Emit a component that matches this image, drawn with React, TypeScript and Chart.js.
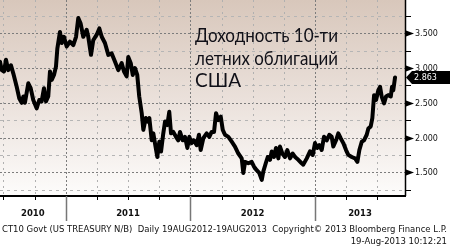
import { useEffect, useRef } from "react";
import { Chart, registerables } from "chart.js";

Chart.register(...registerables);

// Fractional-year dates and 10Y US Treasury yields (%)
const dates = [
  2010.473, 2010.487, 2010.505, 2010.521, 2010.539, 2010.561, 2010.58, 2010.607, 2010.628, 2010.647,
  2010.66, 2010.673, 2010.7, 2010.719, 2010.74, 2010.767, 2010.788, 2010.807, 2010.826, 2010.842,
  2010.86, 2010.874, 2010.888, 2010.906, 2010.922, 2010.933, 2010.954, 2010.968, 2010.986, 2011.008,
  2011.034, 2011.061, 2011.083, 2011.101, 2011.12, 2011.141, 2011.168, 2011.181, 2011.203, 2011.221,
  2011.249, 2011.27, 2011.289, 2011.315, 2011.342, 2011.369, 2011.396, 2011.422, 2011.449, 2011.468,
  2011.489, 2011.502, 2011.522, 2011.538, 2011.556, 2011.574, 2011.59, 2011.61, 2011.623, 2011.642,
  2011.658, 2011.671, 2011.69, 2011.703, 2011.716, 2011.735, 2011.751, 2011.765, 2011.783, 2011.797,
  2011.815, 2011.831, 2011.845, 2011.863, 2011.885, 2011.903, 2011.917, 2011.939, 2011.957, 2011.976,
  2011.992, 2012.011, 2012.029, 2012.051, 2012.069, 2012.083, 2012.104, 2012.131, 2012.152, 2012.171,
  2012.19, 2012.206, 2012.224, 2012.244, 2012.26, 2012.278, 2012.305, 2012.332, 2012.358, 2012.385,
  2012.412, 2012.425, 2012.439, 2012.465, 2012.492, 2012.511, 2012.532, 2012.553, 2012.573, 2012.585,
  2012.605, 2012.621, 2012.639, 2012.653, 2012.671, 2012.687, 2012.706, 2012.719, 2012.738, 2012.759,
  2012.778, 2012.8, 2012.821, 2012.84, 2012.866, 2012.893, 2012.906, 2012.934, 2012.96, 2012.982,
  2013.0, 2013.019, 2013.035, 2013.054, 2013.072, 2013.094, 2013.115, 2013.134, 2013.147, 2013.169,
  2013.187, 2013.206, 2013.227, 2013.249, 2013.267, 2013.295, 2013.321, 2013.34, 2013.356, 2013.375,
  2013.393, 2013.415, 2013.428, 2013.447, 2013.46, 2013.474, 2013.49, 2013.508, 2013.522, 2013.535,
  2013.554, 2013.57, 2013.588, 2013.608, 2013.618, 2013.628, 2013.642,
];
const yields = [
  3.09, 2.97, 2.95, 3.12, 2.97, 3.04, 2.92, 2.73, 2.56, 2.5,
  2.59, 2.5, 2.78, 2.71, 2.54, 2.42, 2.54, 2.52, 2.71, 2.52,
  2.59, 2.95, 2.83, 2.9, 3.02, 3.28, 3.52, 3.36, 3.45, 3.31,
  3.38, 3.33, 3.45, 3.72, 3.64, 3.45, 3.55, 3.45, 3.19, 3.4,
  3.48, 3.57, 3.45, 3.36, 3.19, 3.21, 3.09, 2.97, 3.07, 2.95,
  2.88, 3.16, 3.07, 2.9, 3.0, 2.9, 2.59, 2.35, 2.11, 2.28,
  2.23, 2.28, 1.96, 2.06, 1.92, 1.72, 1.94, 1.8, 2.06, 2.23,
  2.18, 2.37, 2.06, 2.08, 2.01, 1.96, 2.08, 1.96, 2.01, 1.85,
  2.01, 1.92, 1.96, 1.89, 2.04, 1.82, 1.99, 2.06, 2.01, 2.08,
  2.08, 2.35, 2.25, 2.3, 2.11, 2.04, 2.01, 1.94, 1.87, 1.77,
  1.7, 1.49, 1.65, 1.63, 1.65, 1.58, 1.53, 1.49, 1.39, 1.51,
  1.63, 1.72, 1.68, 1.8, 1.72, 1.85, 1.7, 1.87, 1.77, 1.72,
  1.82, 1.7, 1.77, 1.72, 1.68, 1.63, 1.61, 1.7, 1.8, 1.75,
  1.92, 1.85, 1.89, 1.82, 2.01, 1.96, 2.04, 2.01, 1.87, 1.96,
  2.06, 1.99, 1.92, 1.82, 1.75, 1.72, 1.7, 1.65, 1.82, 1.94,
  1.96, 2.04, 2.13, 2.16, 2.28, 2.61, 2.54, 2.68, 2.73, 2.59,
  2.49, 2.59, 2.61, 2.59, 2.73, 2.68, 2.863,
];

const yGridValues = [1.25, 1.5, 1.75, 2.0, 2.25, 2.5, 2.75, 3.0, 3.25, 3.5, 3.75];
const yMajorValues = [1.5, 2.0, 2.5, 3.0, 3.5];
const yMajorLabels = ["1.500", "2.000", "2.500", "3.000", "3.500"];
const yearStarts = [2010, 2011, 2012, 2013];
const yearLabels = ["2010", "2011", "2012", "2013"];
const quarterOffsets = [0, 0.25, 0.5, 0.75];
const lastValue = 2.863;
const lastValueLabel = "2.863";
const titleLines = ["Доходность 10-ти", "летних облигаций", "США"];
const footerLine1 =
  "CT10 Govt (US TREASURY N/B)  Daily 19AUG2012-19AUG2013  Copyright© 2013 Bloomberg Finance L.P.";
const footerLine2 = "19-Aug-2013 10:12:21";

const X_MIN = 2010.473;
const X_MAX = 2013.722;
const Y_MIN = 1.173;
const Y_MAX = 3.979;

const SMALL = "8px 'DejaVu Sans', Tahoma, sans-serif";

function seg(ctx: CanvasRenderingContext2D, x1: number, y1: number, x2: number, y2: number) {
  ctx.beginPath();
  ctx.moveTo(x1, y1);
  ctx.lineTo(x2, y2);
  ctx.stroke();
}

const decorPlugin = {
  id: "decor",
  beforeDraw(chart: any) {
    const { ctx, chartArea: a, scales } = chart;
    const x = scales.x;
    const y = scales.y;
    ctx.save();
    ctx.fillStyle = "#ffffff";
    ctx.fillRect(0, 0, chart.width, chart.height);
    const g = ctx.createLinearGradient(0, a.top, 0, a.bottom);
    g.addColorStop(0, "#d8c7bb");
    g.addColorStop(0.5, "#eae0da");
    g.addColorStop(1, "#fdfcfb");
    ctx.fillStyle = g;
    ctx.fillRect(a.left, a.top, a.right - a.left, a.bottom - a.top);

    ctx.lineWidth = 1;
    for (const v of yGridValues) {
      const py = Math.round(y.getPixelForValue(v)) + 0.5;
      const major = yMajorValues.includes(v);
      ctx.strokeStyle = major ? "#7c7c7c" : "#b5b5b5";
      ctx.setLineDash(major ? [2, 2] : [3, 4]);
      seg(ctx, a.left, py, a.right, py);
    }
    for (const ys of yearStarts) {
      for (const q of quarterOffsets) {
        const v = ys + q;
        if (v <= X_MIN || v >= X_MAX) continue;
        const px = Math.round(x.getPixelForValue(v)) + 0.5;
        const yearLine = q === 0;
        ctx.strokeStyle = yearLine ? "#7c7c7c" : "#b0b0b0";
        ctx.setLineDash(yearLine ? [2, 2] : [2, 4]);
        seg(ctx, px, a.top, px, a.bottom);
      }
    }
    ctx.restore();
  },
  afterDatasetsDraw(chart: any) {
    const { ctx, chartArea: a, scales } = chart;
    const x = scales.x;
    const y = scales.y;
    ctx.save();
    ctx.setLineDash([]);

    ctx.fillStyle = "#101018";
    ctx.font = "19px Lato, 'Open Sans', sans-serif";
    ctx.textBaseline = "alphabetic";
    ctx.textAlign = "left";
    const base = [42, 64.5, 87];
    titleLines.forEach((t, i) => ctx.fillText(t, 195, base[i], 143));

    ctx.strokeStyle = "#000";
    ctx.lineWidth = 1.5;
    seg(ctx, a.right + 0.5, a.top, a.right + 0.5, a.bottom + 1);
    ctx.lineWidth = 2;
    seg(ctx, a.left, a.bottom + 1, a.right + 1, a.bottom + 1);

    for (const ys of yearStarts) {
      for (const q of quarterOffsets) {
        const v = ys + q;
        if (v < X_MIN || v > X_MAX) continue;
        const px = Math.round(x.getPixelForValue(v)) + 0.5;
        if (q === 0) {
          ctx.strokeStyle = "#777";
          ctx.lineWidth = 1.5;
          seg(ctx, px, a.bottom + 1, px, a.bottom + 26);
        } else {
          ctx.strokeStyle = "#000";
          ctx.lineWidth = 1;
          seg(ctx, px, a.bottom + 1, px, a.bottom + 5);
        }
      }
    }
    ctx.fillStyle = "#111";
    ctx.font = "bold 8.5px 'DejaVu Sans', Tahoma, sans-serif";
    ctx.textAlign = "center";
    ctx.textBaseline = "middle";
    yearStarts.forEach((ys, i) => {
      const s = Math.max(ys, X_MIN);
      const e = Math.min(ys + 1, X_MAX);
      const cx = (x.getPixelForValue(s) + x.getPixelForValue(e)) / 2;
      ctx.fillText(yearLabels[i], cx, 214);
    });

    ctx.strokeStyle = "#000";
    ctx.lineWidth = 1;
    for (const v of yGridValues) {
      const py = Math.round(y.getPixelForValue(v)) + 0.5;
      if (!yMajorValues.includes(v)) seg(ctx, a.right, py, a.right + 6, py);
    }
    ctx.font = SMALL;
    ctx.textAlign = "left";
    ctx.textBaseline = "middle";
    yMajorValues.forEach((v, i) => {
      const py = Math.round(y.getPixelForValue(v)) + 0.5;
      ctx.fillStyle = "#000";
      ctx.beginPath();
      ctx.moveTo(a.right + 1, py - 3);
      ctx.lineTo(a.right + 9, py);
      ctx.lineTo(a.right + 1, py + 3);
      ctx.closePath();
      ctx.fill();
      ctx.fillStyle = "#111";
      ctx.fillText(yMajorLabels[i], a.right + 10, py + 0.5);
    });

    const ly = y.getPixelForValue(lastValue);
    ctx.fillStyle = "#000";
    ctx.beginPath();
    ctx.moveTo(a.right + 1, ly);
    ctx.lineTo(a.right + 7, ly - 6.5);
    ctx.lineTo(chart.width, ly - 6.5);
    ctx.lineTo(chart.width, ly + 6.5);
    ctx.lineTo(a.right + 7, ly + 6.5);
    ctx.closePath();
    ctx.fill();
    ctx.fillStyle = "#fff";
    ctx.fillText(lastValueLabel, a.right + 9, ly + 0.5);

    ctx.fillStyle = "#111";
    ctx.font = "9.5px 'DejaVu Sans Condensed', 'DejaVu Sans', Tahoma, sans-serif";
    ctx.textAlign = "left";
    ctx.fillText(footerLine1, 2, 230, 445);
    ctx.textAlign = "right";
    ctx.fillText(footerLine2, 447, 242);

    ctx.restore();
  },
};

export default function App() {
  const ref = useRef<HTMLCanvasElement | null>(null);
  useEffect(() => {
    if (!ref.current) return;
    const chart = new Chart(ref.current, {
      type: "line",
      data: {
        datasets: [
          {
            data: dates.map((d, i) => ({ x: d, y: yields[i] })),
            borderColor: "#000",
            borderWidth: 4,
            pointRadius: 0,
            tension: 0,
            borderJoinStyle: "round",
            borderCapStyle: "round",
            fill: false,
          },
        ],
      },
      options: {
        animation: false,
        responsive: false,
        devicePixelRatio: 1,
        events: [],
        layout: { padding: { left: 0, top: 0, right: 45, bottom: 54 } },
        plugins: { legend: { display: false }, tooltip: { enabled: false } },
        scales: {
          x: { type: "linear", min: X_MIN, max: X_MAX, display: false },
          y: { type: "linear", min: Y_MIN, max: Y_MAX, display: false },
        },
      },
      plugins: [decorPlugin],
    });
    return () => chart.destroy();
  }, []);
  return (
    <div style={{ position: "absolute", left: 0, top: 0, width: 450, height: 249 }}>
      <canvas ref={ref} width={450} height={249} style={{ display: "block" }} />
    </div>
  );
}
